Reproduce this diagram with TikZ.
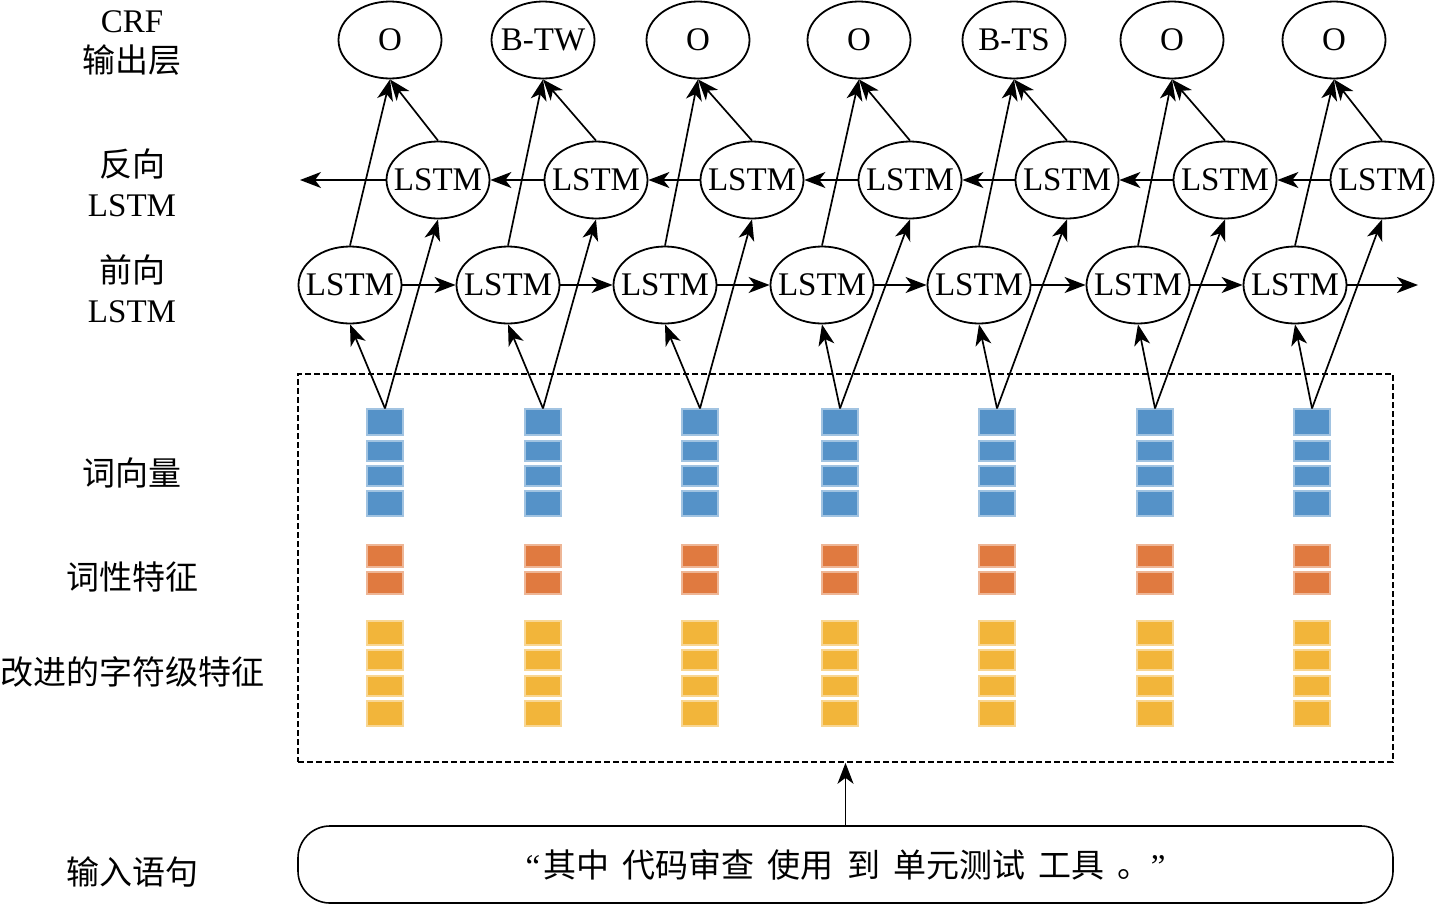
\documentclass[tikz,border=0pt]{standalone}
\usepackage{fontspec}
\setmainfont{Liberation Serif}
\newfontfamily\cjk{Noto Sans CJK SC}
\usetikzlibrary{shapes.geometric,arrows.meta}
\definecolor{vblue}{HTML}{5592C8}
\definecolor{vorange}{HTML}{E07A40}
\definecolor{vyellow}{HTML}{F2B53A}
\begin{document}
\begin{tikzpicture}[x=0.5pt,y=-0.5pt,
  font=\fontsize{16.5}{20}\selectfont,
  ell/.style={draw, ellipse, line width=0.9pt, minimum width=51.5pt, minimum height=38.5pt, inner sep=0pt},
  arr/.style={line width=0.85pt, -{Stealth[length=10.5pt,width=8pt,inset=3pt]}},
  blk/.style={minimum width=18pt, inner sep=0pt, line width=0.6pt},
  bblk/.style={blk, fill=vblue, draw=vblue!55!white},
  oblk/.style={blk, fill=vorange, draw=vorange!55!white},
  yblk/.style={blk, fill=vyellow, draw=vyellow!55!white},
  lbl/.style={align=center, inner sep=0pt}
]
\useasboundingbox (0,0) rectangle (1435,905);

% left labels
\node[lbl] (l1) at (132,43) {CRF\\\cjk 输出层};
\node[lbl] (l2) at (132,183) {\cjk 反向\\LSTM};
\node[lbl] (l3) at (132,289) {\cjk 前向\\LSTM};
\node[lbl] (l4) at (132,473) {\cjk 词向量};
\node[lbl] (l5) at (132,577) {\cjk 词性特征};
\node[lbl] (l6) at (132,672) {\cjk 改进的字符级特征};
\node[lbl] (l7) at (132,872) {\cjk 输入语句};

% columns
\foreach \i/\vx/\fx/\bx/\ox/\lab in {1/385/350/438/390/O, 2/543/508/596/543/B-TW, 3/700/665/752/698/O, 4/840/822/910/859/O, 5/997/979/1067/1014/B-TS, 6/1155/1138/1225/1172/O, 7/1312/1295/1382/1334/O}{
  \node[ell, label=center:{\lab}] (o\i) at (\ox,40) {};
  \node[ell, label=center:{LSTM}] (b\i) at (\bx,180) {};
  \node[ell, label=center:{LSTM}] (f\i) at (\fx,285) {};
  \node[bblk, minimum height=13pt] (v\i) at (\vx,422) {};
  \node[bblk, minimum height=10pt] (va\i) at (\vx,451) {};
  \node[bblk, minimum height=10pt] (vb\i) at (\vx,476) {};
  \node[bblk, minimum height=12.5pt] (vc\i) at (\vx,503.5) {};
  \node[oblk, minimum height=11pt] (p\i) at (\vx,556) {};
  \node[oblk, minimum height=11pt] (pa\i) at (\vx,583) {};
  \node[yblk, minimum height=12pt] (c\i) at (\vx,633) {};
  \node[yblk, minimum height=10pt] (ca\i) at (\vx,660) {};
  \node[yblk, minimum height=10pt] (cb\i) at (\vx,686) {};
  \node[yblk, minimum height=12.5pt] (cc\i) at (\vx,713.5) {};
}

% embedding box and input
\node[draw, dashed, dash pattern=on 3pt off 1.5pt, line width=0.8pt, minimum width=547.5pt, minimum height=194pt, inner sep=0pt] (emb) at (845.5,568) {};
\node[draw, line width=0.8pt, rounded corners=16pt, minimum width=547.5pt, minimum height=38.5pt, inner sep=0pt] (inp) at (845.5,864.5) {“\hspace{0.1em}{\cjk 其中\hspace{0.4em}代码审查\hspace{0.4em}使用\hspace{0.4em}到\hspace{0.4em}单元测试\hspace{0.4em}工具\hspace{0.4em}。}”};
\draw[arr] (inp.north) -- (emb.south);

\coordinate (fend) at (1418,285);
\coordinate (bend) at (300,180);

% connectors
\foreach \i in {1,...,7}{
  \draw[arr] (v\i.north) -- (f\i.south);
  \draw[arr] (v\i.north) -- (b\i.south);
  \draw[arr] (f\i.north) -- (o\i.south);
  \draw[arr] (b\i.north) -- (o\i.south);
}
\foreach \i/\j in {1/2,2/3,3/4,4/5,5/6,6/7}{
  \draw[arr] (f\i.east) -- (f\j.west);
  \draw[arr] (b\j.west) -- (b\i.east);
}
\draw[arr] (f7.east) -- (fend);
\draw[arr] (b1.west) -- (bend);
\end{tikzpicture}
\end{document}
